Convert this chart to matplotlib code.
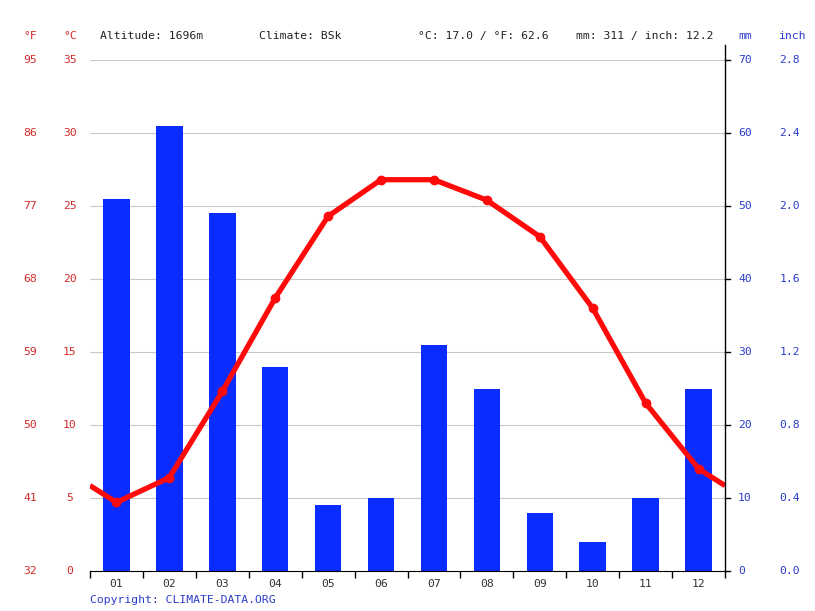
import matplotlib
import matplotlib.pyplot as plt
from matplotlib.transforms import blended_transform_factory

matplotlib.use("Agg")

MONTHS = ["01", "02", "03", "04", "05", "06", "07", "08", "09", "10", "11", "12"]
TEMP_C = [4.7, 6.4, 12.3, 18.7, 24.3, 26.8, 26.8, 25.4, 22.9, 18.0, 11.5, 7.0]
PRECIP_MM = [51, 61, 49, 28, 9, 10, 31, 25, 8, 4, 10, 25]

C_TICKS = [0, 5, 10, 15, 20, 25, 30, 35]
F_LABELS = ["32", "41", "50", "59", "68", "77", "86", "95"]
MM_TICKS = [0, 10, 20, 30, 40, 50, 60, 70]
INCH_LABELS = ["0.0", "0.4", "0.8", "1.2", "1.6", "2.0", "2.4", "2.8"]

ALTITUDE = "Altitude: 1696m"
CLIMATE = "Climate: BSk"
TEMP_SUMMARY = "°C: 17.0 / °F: 62.6"
PRECIP_SUMMARY = "mm: 311 / inch: 12.2"

RED = "#ff0a0a"
RED_TXT = "#d42a2a"
BLUE = "#0a2cff"
BLUE_TXT = "#2a3ccc"
FS = 8.2

plt.rcParams["font.family"] = ["DejaVu Sans Mono"]

fig = plt.figure(figsize=(8.15, 6.11), dpi=100)
ax2 = fig.add_axes([90 / 815, 40 / 611, 635 / 815, 511 / 611])
ax = ax2.twinx()
ax.set_zorder(ax2.get_zorder() + 1)
ax.patch.set_visible(False)

x = list(range(1, 13))

# precipitation bars, grid underneath
ax2.set_xlim(0.5, 12.5)
ax2.set_ylim(0, 70)
for v in MM_TICKS[1:]:
    ax2.axhline(v, color="#c8c8c8", lw=0.8, zorder=0)
ax2.bar(x, PRECIP_MM, width=0.5, color=BLUE, zorder=2)

# temperature line, wrapped at both edges (Dec/Jan midpoint)
edge = (TEMP_C[-1] + TEMP_C[0]) / 2
ax.plot([0.5] + x + [12.5], [edge] + TEMP_C + [edge], color=RED, lw=3.8,
        solid_joinstyle="round", solid_capstyle="butt", zorder=3)
ax.plot(x, TEMP_C, "o", color=RED, ms=6, zorder=4)
ax.set_ylim(0, 35)
ax.set_xlim(0.5, 12.5)

for a in (ax, ax2):
    for s in ("top", "left", "right", "bottom"):
        a.spines[s].set_visible(False)
    a.set_yticks([])

ax2.spines["bottom"].set_visible(True)
ax2.set_xticks([i + 0.5 for i in range(13)])
ax2.set_xticklabels([])
ax2.tick_params(axis="x", which="major", length=5, width=1, direction="out")
ax2.set_xticks(x, minor=True)
ax2.set_xticklabels(MONTHS, minor=True, fontsize=FS, color="#333333")
ax2.tick_params(axis="x", which="minor", length=0, pad=6)

# right axis line with small ticks
ax.plot([12.5, 12.5], [0, 36], color="black", lw=1.0, clip_on=False, zorder=5)
for v in MM_TICKS:
    ax2.plot([12.5, 12.6], [v, v], color="black", lw=1.0, clip_on=False, zorder=5)

# tick label columns
tl = blended_transform_factory(fig.transFigure, ax.transData)
tr = blended_transform_factory(fig.transFigure, ax2.transData)
for c, f in zip(C_TICKS, F_LABELS):
    ax.text(30 / 815, c, f, transform=tl, ha="center", va="center", color=RED_TXT, fontsize=FS)
    ax.text(70 / 815, c, str(c), transform=tl, ha="center", va="center", color=RED_TXT, fontsize=FS)
for m, i in zip(MM_TICKS, INCH_LABELS):
    ax2.text(738 / 815, m, str(m), transform=tr, ha="left", va="center", color=BLUE_TXT, fontsize=FS)
    ax2.text(790 / 815, m, i, transform=tr, ha="center", va="center", color=BLUE_TXT, fontsize=FS)

# header row
hy = 1 - 36 / 611
fig.text(30 / 815, hy, "°F", ha="center", va="center", color=RED_TXT, fontsize=FS)
fig.text(70 / 815, hy, "°C", ha="center", va="center", color=RED_TXT, fontsize=FS)
fig.text(100 / 815, hy, ALTITUDE, ha="left", va="center", color="#222222", fontsize=FS)
fig.text(259 / 815, hy, CLIMATE, ha="left", va="center", color="#222222", fontsize=FS)
fig.text(418 / 815, hy, TEMP_SUMMARY, ha="left", va="center", color="#222222", fontsize=FS)
fig.text(576 / 815, hy, PRECIP_SUMMARY, ha="left", va="center", color="#222222", fontsize=FS)
fig.text(745 / 815, hy, "mm", ha="center", va="center", color=BLUE_TXT, fontsize=FS)
fig.text(792 / 815, hy, "inch", ha="center", va="center", color=BLUE_TXT, fontsize=FS)
fig.text(90 / 815, 1 - 600 / 611, "Copyright: CLIMATE-DATA.ORG", ha="left", va="center",
         color=BLUE_TXT, fontsize=FS)

fig.savefig("out.png", dpi=100)
